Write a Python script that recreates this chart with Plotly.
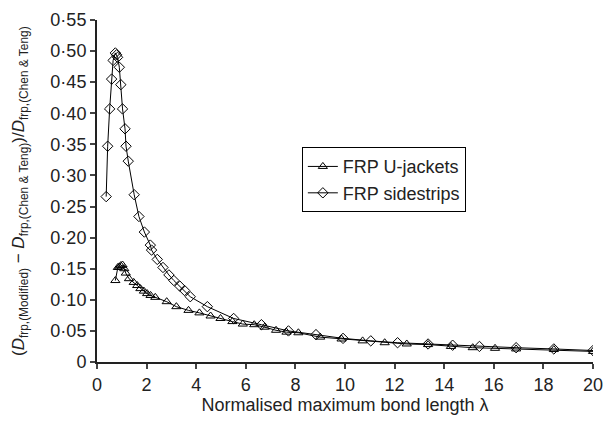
import plotly.graph_objects as go

# FRP sidestrips (diamonds)
side_x = [0.37, 0.43, 0.51, 0.59, 0.65, 0.74, 0.79, 0.83, 0.90, 0.96, 1.03, 1.13, 1.17, 1.26,
          1.50, 1.69, 1.91, 2.15, 2.20, 2.43, 2.66, 2.90, 3.10, 3.34, 3.53, 3.76, 4.45, 5.51,
          6.63, 7.72, 8.83, 9.92, 11.04, 12.12, 13.35, 14.34, 15.42, 16.90, 18.42, 20.0]
side_y = [0.266, 0.347, 0.407, 0.455, 0.485, 0.497, 0.494, 0.490, 0.474, 0.446, 0.407, 0.375, 0.347, 0.323,
          0.269, 0.234, 0.209, 0.188, 0.180, 0.165, 0.152, 0.140, 0.131, 0.122, 0.115, 0.105, 0.089, 0.070,
          0.060, 0.050, 0.044, 0.038, 0.034, 0.031, 0.029, 0.027, 0.025, 0.023, 0.021, 0.0185]

# FRP U-jackets (triangles)
uj_x = [0.74, 0.84, 0.90, 0.96, 1.03, 1.10, 1.16, 1.29, 1.48, 1.62, 1.75, 1.89, 2.02, 2.16, 2.35,
        2.81, 3.20, 3.69, 4.13, 4.58, 4.98, 5.46, 5.88, 6.34, 6.76, 7.22, 7.64, 8.12, 9.00, 9.86,
        10.71, 11.60, 12.49, 13.35, 14.27, 15.15, 16.05, 16.90, 18.42, 20.0]
uj_y = [0.131, 0.152, 0.153, 0.155, 0.156, 0.150, 0.143, 0.134, 0.128, 0.123, 0.118, 0.114, 0.110, 0.107, 0.104,
        0.097, 0.089, 0.083, 0.079, 0.074, 0.070, 0.065, 0.061, 0.060, 0.056, 0.051, 0.048, 0.047, 0.040, 0.037,
        0.034, 0.031, 0.029, 0.028, 0.025, 0.023, 0.022, 0.021, 0.020, 0.017]

x_ticks = list(range(0, 21, 2))
y_tickvals = [i * 0.05 for i in range(12)]
y_ticktext = ["0"] + ["0·%02d" % (5 * i) for i in range(1, 12)]

FONT = "Liberation Sans, Arial, sans-serif"
FS = 18

fig = go.Figure()
fig.add_trace(go.Scatter(
    x=uj_x, y=uj_y, mode="lines+markers", name="FRP U-jackets",
    line=dict(color="black", width=1),
    marker=dict(symbol="triangle-up-open", size=8, color="black", line=dict(width=1)),
))
fig.add_trace(go.Scatter(
    x=side_x, y=side_y, mode="lines+markers", name="FRP sidestrips",
    line=dict(color="black", width=1),
    marker=dict(symbol="diamond-open", size=8, color="black", line=dict(width=1)),
))

fig.update_layout(
    width=613, height=423,
    margin=dict(l=97, r=10, t=15, b=61),
    paper_bgcolor="white", plot_bgcolor="white",
    font=dict(family=FONT, size=FS, color="#222"),
    showlegend=True,
    legend=dict(
        x=0.413, y=0.628, xanchor="left", yanchor="top",
        bordercolor="black", borderwidth=1, bgcolor="white",
        font=dict(size=FS, family=FONT, color="#222"),
        itemwidth=30, tracegroupgap=0,
    ),
    xaxis=dict(
        range=[0, 20], tickvals=x_ticks, ticks="outside", ticklen=5, tickwidth=2,
        showline=True, linecolor="#222", linewidth=2, showgrid=False, zeroline=False,
        ticklabeloverflow="allow",
        tickfont=dict(size=FS), title=dict(text="Normalised maximum bond length λ", standoff=4, font=dict(size=FS)),
    ),
    yaxis=dict(
        range=[0, 0.55], tickvals=y_tickvals, ticktext=y_ticktext, ticks="outside", ticklen=5, tickwidth=2,
        showline=True, linecolor="#222", linewidth=2, showgrid=False, zeroline=False,
        ticklabeloverflow="allow",
        tickfont=dict(size=FS),
    ),
    annotations=[dict(
        text="(<i>D</i><sub>frp,(Modified)</sub> − <i>D</i><sub>frp,(Chen & Teng)</sub>)/<i>D</i><sub>frp,(Chen & Teng)</sub>",
        xref="paper", yref="paper", x=0, y=0.5, xanchor="center", yanchor="middle",
        xshift=-77, textangle=-90, showarrow=False, font=dict(size=17, family=FONT, color="#222"),
    )],
)

fig.write_html("out.html")
